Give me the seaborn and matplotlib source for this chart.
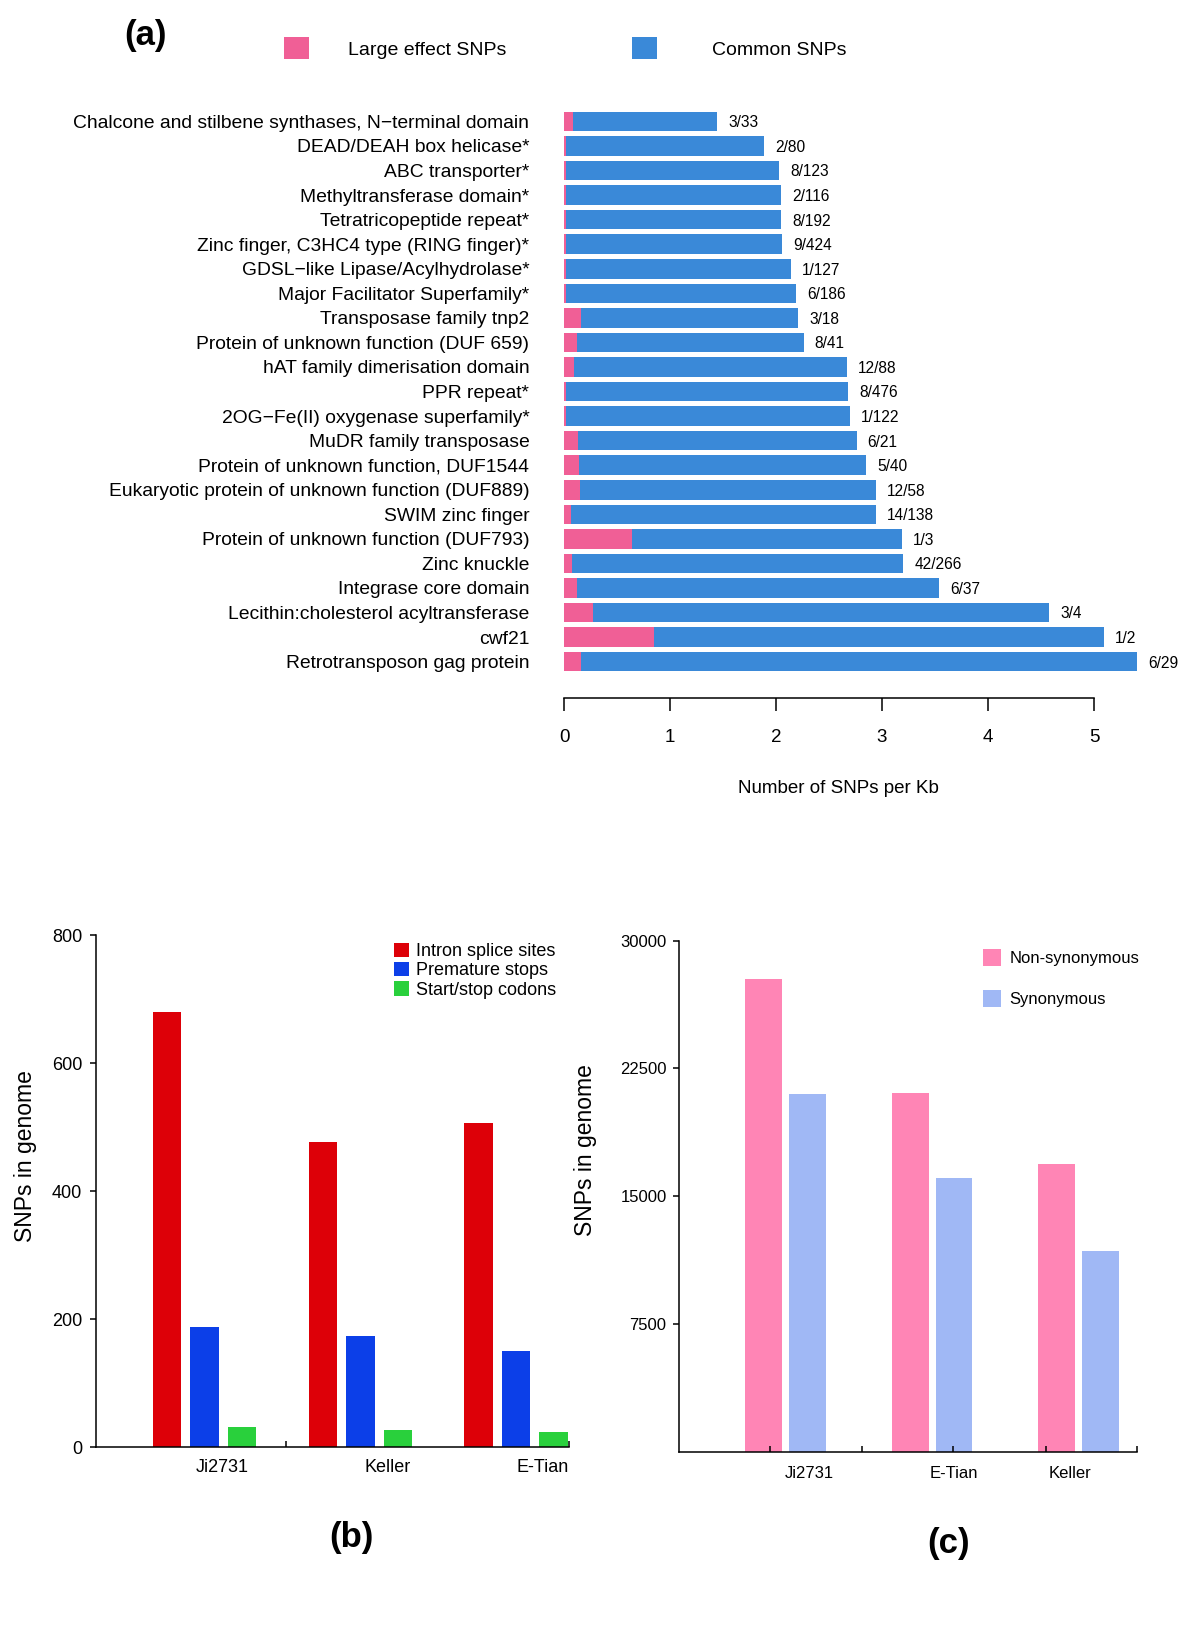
import matplotlib
matplotlib.use('Agg')
import matplotlib.pyplot as plt
import seaborn as sns
import pandas as pd

# ---- panel (a): SNP density per Pfam domain ----
DOMAINS = [
    'Chalcone and stilbene synthases, N\u2212terminal domain',
    'DEAD/DEAH box helicase*',
    'ABC transporter*',
    'Methyltransferase domain*',
    'Tetratricopeptide repeat*',
    'Zinc finger, C3HC4 type (RING finger)*',
    'GDSL\u2212like Lipase/Acylhydrolase*',
    'Major Facilitator Superfamily*',
    'Transposase family tnp2',
    'Protein of unknown function (DUF 659)',
    'hAT family dimerisation domain',
    'PPR repeat*',
    '2OG\u2212Fe(II) oxygenase superfamily*',
    'MuDR family transposase',
    'Protein of unknown function, DUF1544',
    'Eukaryotic protein of unknown function (DUF889)',
    'SWIM zinc finger',
    'Protein of unknown function (DUF793)',
    'Zinc knuckle',
    'Integrase core domain',
    'Lecithin:cholesterol acyltransferase',
    'cwf21',
    'Retrotransposon gag protein',
]
TOTAL_PER_KB = [1.446, 1.886, 2.03, 2.044, 2.05, 2.06, 2.14, 2.19, 2.21, 2.26, 2.67, 2.68,
                2.70, 2.76, 2.85, 2.94, 2.94, 3.19, 3.20, 3.54, 4.58, 5.09, 5.41]
LARGE_PER_KB = [0.087, 0.015, 0.015, 0.015, 0.015, 0.015, 0.015, 0.015, 0.16, 0.12, 0.095, 0.015,
                0.015, 0.13, 0.14, 0.147, 0.07, 0.64, 0.08, 0.126, 0.27, 0.85, 0.16]
RATIOS = ['3/33', '2/80', '8/123', '2/116', '8/192', '9/424', '1/127', '6/186', '3/18', '8/41',
          '12/88', '8/476', '1/122', '6/21', '5/40', '12/58', '14/138', '1/3', '42/266', '6/37',
          '3/4', '1/2', '6/29']

# ---- panel (b): large effect SNP classes ----
STRAINS_B = ['Ji2731', 'Keller', 'E-Tian']
TYPES_B = ['Intron splice sites', 'Premature stops', 'Start/stop codons']
INTRON = [680, 477, 506]
PREMATURE = [188, 174, 150]
STARTSTOP = [32, 26, 24]

# ---- panel (c): coding SNPs ----
STRAINS_C = ['Ji2731', 'E-Tian', 'Keller']
CLASSES_C = ['Non-synonymous', 'Synonymous']
NONSYN = [27720, 21080, 16920]
SYN = [20980, 16060, 11820]

PINK_A, BLUE_A = '#F05F96', '#3A89D8'
RED_B, BLUE_B, GREEN_B = '#DD0008', '#0C3FE8', '#29D03C'
PINK_C, BLUE_C = '#FF85B5', '#A0B8F5'

sns.set_theme(style='white')
plt.rcParams['font.family'] = ['Liberation Sans', 'DejaVu Sans']
for key in ['text.color', 'axes.labelcolor', 'xtick.color', 'ytick.color', 'axes.edgecolor']:
    plt.rcParams[key] = 'black'

W, H = 1200, 1634
fig = plt.figure(figsize=(W / 100, H / 100), dpi=100)


def rect(left, top, right, bottom):
    return [left / W, 1 - bottom / H, (right - left) / W, (bottom - top) / H]


# ================= (a) =================
ax_a = fig.add_axes(rect(564, 106.7, 1147, 698))
df_a = pd.DataFrame({'domain': DOMAINS, 'total': TOTAL_PER_KB, 'large': LARGE_PER_KB})
sns.barplot(data=df_a, y='domain', x='total', orient='h', order=DOMAINS, color=BLUE_A,
            saturation=1, width=0.8, errorbar=None, linewidth=0, label='Common SNPs', ax=ax_a)
sns.barplot(data=df_a, y='domain', x='large', orient='h', order=DOMAINS, color=PINK_A,
            saturation=1, width=0.8, errorbar=None, linewidth=0, label='Large effect SNPs', ax=ax_a)
if ax_a.get_legend() is not None:
    ax_a.get_legend().remove()
for i, (tot, txt) in enumerate(zip(TOTAL_PER_KB, RATIOS)):
    ax_a.annotate(txt, xy=(tot, i), xytext=(8, -1), textcoords='offset points',
                  va='center', ha='left', fontsize=11.2)

ax_a.set_xlim(0, 5.5)
ax_a.set_ylim(len(DOMAINS) - 1 + 1.48, -0.6)
for s in ['left', 'top', 'right']:
    ax_a.spines[s].set_visible(False)
ax_a.spines['bottom'].set_bounds(0, 5)
ax_a.spines['bottom'].set_linewidth(1.1)
ax_a.set_xticks(range(6))
ax_a.tick_params(axis='x', direction='out', length=9.5, width=1.1,
                 labelsize=13.5, pad=13, bottom=True)
ax_a.tick_params(axis='y', length=0, labelsize=13.9, pad=25)
ax_a.set_ylabel('')
ax_a.set_xlabel('Number of SNPs per Kb', fontsize=13.5)
ax_a.xaxis.set_label_coords((838.5 - 564) / 583, -(788 - 698) / 591.3)
ax_a.xaxis.label.set_va('center')

h, l = ax_a.get_legend_handles_labels()
lk = {lab: hd for hd, lab in zip(h, l)}
leg1 = fig.legend([lk['Large effect SNPs']], ['Large effect SNPs'], loc='center left',
                  bbox_to_anchor=(284 / W, 1 - 48 / H), frameon=False, fontsize=14,
                  handlelength=1.29, handleheight=1.29, handletextpad=2.0,
                  borderaxespad=0, borderpad=0)
leg2 = fig.legend([lk['Common SNPs']], ['Common SNPs'], loc='center left',
                  bbox_to_anchor=(632 / W, 1 - 48 / H), frameon=False, fontsize=14,
                  handlelength=1.29, handleheight=1.29, handletextpad=2.85,
                  borderaxespad=0, borderpad=0)
fig.text(146 / W, 1 - 36 / H, '(a)', fontsize=25, fontweight='bold', ha='center', va='center')

# ================= (b) =================
ax_b = fig.add_axes(rect(96, 935, 569, 1447))
df_b = pd.DataFrame({
    'strain': STRAINS_B * 3,
    'type': [t for t in TYPES_B for _ in STRAINS_B],
    'count': INTRON + PREMATURE + STARTSTOP,
})
sns.barplot(data=df_b, x='strain', y='count', hue='type', order=STRAINS_B, hue_order=TYPES_B,
            palette=[RED_B, BLUE_B, GREEN_B], saturation=1, width=0.723, gap=0.24,
            errorbar=None, linewidth=0, ax=ax_b)
ax_b.set_xlim(-0.697, 2.34)
ax_b.set_ylim(0, 800)
ax_b.set_yticks([0, 200, 400, 600, 800])
ax_b.set_xticks([0.112, 1.178, 2.173], STRAINS_B)
ax_b.set_xticks([0.523, 2.34], minor=True)
for s in ['top', 'right']:
    ax_b.spines[s].set_visible(False)
for s in ['left', 'bottom']:
    ax_b.spines[s].set_linewidth(1.1)
ax_b.tick_params(axis='x', which='major', length=0, labelsize=13, pad=9)
ax_b.tick_params(axis='x', which='minor', direction='in', length=4, width=1.1, bottom=True)
ax_b.tick_params(axis='y', direction='out', length=4, width=1.1, left=True,
                 labelsize=13, pad=6)
ax_b.set_xlabel('')
ax_b.set_ylabel('SNPs in genome', fontsize=16.5)
ax_b.yaxis.set_label_coords(-0.15, 0.568)
ax_b.yaxis.label.set_va('center')
ax_b.legend(loc='upper left', bbox_to_anchor=(0.630, 0.985), frameon=False, fontsize=13,
            handlelength=0.85, handleheight=0.85, handletextpad=0.38, labelspacing=0.1,
            borderaxespad=0, borderpad=0)
fig.text(351 / W, 1 - 1537 / H, '(b)', fontsize=25, fontweight='bold', ha='center', va='center')

# ================= (c) =================
ax_c = fig.add_axes(rect(679, 940.6, 1137, 1452))
df_c = pd.DataFrame({
    'strain': STRAINS_C * 2,
    'class': [c for c in CLASSES_C for _ in STRAINS_C],
    'count': NONSYN + SYN,
})
sns.barplot(data=df_c, x='strain', y='count', hue='class', order=STRAINS_C, hue_order=CLASSES_C,
            palette=[PINK_C, BLUE_C], saturation=1, width=0.6, gap=0.16,
            errorbar=None, linewidth=0, ax=ax_c)
ax_c.set_xlim(-0.727, 2.399)
ax_c.set_ylim(0, 30000)
ax_c.set_yticks([7500, 15000, 22500, 30000])
ax_c.set_xticks([0.160, 1.146, 1.94], STRAINS_C)
ax_c.set_xticks([-0.106, 0.522, 1.143, 1.778, 2.399], minor=True)
for s in ['top', 'right']:
    ax_c.spines[s].set_visible(False)
for s in ['left', 'bottom']:
    ax_c.spines[s].set_linewidth(1.1)
ax_c.set_axisbelow(False)
ax_c.tick_params(axis='x', which='major', length=0, labelsize=12, pad=10)
ax_c.tick_params(axis='x', which='minor', direction='in', length=4, width=1.1, bottom=True)
ax_c.tick_params(axis='y', direction='out', length=4, width=1.1, left=True,
                 labelsize=12, pad=5)
ax_c.set_xlabel('')
ax_c.set_ylabel('SNPs in genome', fontsize=16.5)
ax_c.yaxis.set_label_coords(-0.205, 0.59)
ax_c.yaxis.label.set_va('center')
ax_c.legend(loc='upper left', bbox_to_anchor=(0.664, 0.983), frameon=False, fontsize=12,
            handlelength=1.1, handleheight=1.2, handletextpad=0.5, labelspacing=1.4,
            borderaxespad=0, borderpad=0)
fig.text(949 / W, 1 - 1544 / H, '(c)', fontsize=25, fontweight='bold', ha='center', va='center')

fig.savefig('out.png', dpi=100)
